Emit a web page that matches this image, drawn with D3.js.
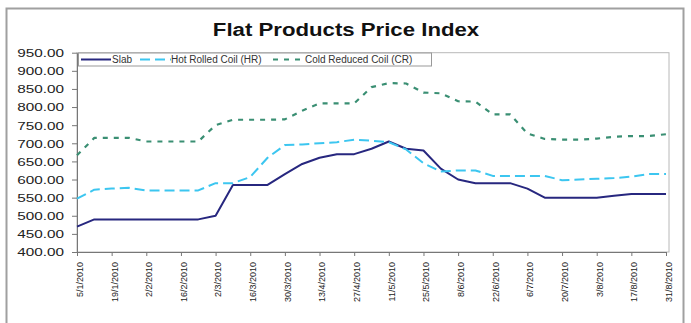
<!DOCTYPE html>
<html>
<head>
<meta charset="utf-8">
<script src="https://cdn.jsdelivr.net/npm/d3@7"></script>
<style>
  html, body { margin: 0; padding: 0; background: #fff; }
  svg { display: block; font-family: "Liberation Sans", Arial, sans-serif; }
</style>
</head>
<body>
<svg id="chart" width="691" height="323"></svg>
<script>
// Weekly observation dates (2010)
const dates = ["5/1/2010","12/1/2010","19/1/2010","26/1/2010","2/2/2010","9/2/2010","16/2/2010","23/2/2010",
  "2/3/2010","9/3/2010","16/3/2010","23/3/2010","30/3/2010","6/4/2010","13/4/2010","20/4/2010","27/4/2010",
  "4/5/2010","11/5/2010","18/5/2010","25/5/2010","1/6/2010","8/6/2010","15/6/2010","22/6/2010","29/6/2010",
  "6/7/2010","13/7/2010","20/7/2010","27/7/2010","3/8/2010","10/8/2010","17/8/2010","24/8/2010","31/8/2010"];

// Fortnightly axis labels
const tickLabels = ["5/1/2010","19/1/2010","2/2/2010","16/2/2010","2/3/2010","16/3/2010","30/3/2010",
  "13/4/2010","27/4/2010","11/5/2010","25/5/2010","8/6/2010","22/6/2010","6/7/2010","20/7/2010",
  "3/8/2010","17/8/2010","31/8/2010"];

const yTicks = [400,450,500,550,600,650,700,750,800,850,900,950];

const slab = [470,490,490,490,490,490,490,490,500,585,585,585,615,643,660,670,670,685,705,685,680,630,
  600,590,590,590,575,550,550,550,550,555,560,560,560];
const hotRolled = [547,572,575,577,570,570,570,570,590,590,607,660,695,697,700,703,710,707,703,683,645,
  622,625,625,610,610,610,610,598,600,602,604,608,615,615];
const coldReduced = [667,715,715,715,705,705,705,705,750,765,765,765,766,790,810,810,810,855,866,865,
  840,838,816,815,780,780,727,712,710,710,713,718,720,720,725];

const seriesNames = ["Slab", "Hot Rolled Coil (HR)", "Cold Reduced Coil (CR)"];

const svg = d3.select("#chart");

// Outer chart frame
svg.append("rect")
  .attr("x", 6.5).attr("y", 8.5).attr("width", 677).attr("height", 330)
  .attr("fill", "#fff").attr("stroke", "#a0a0a0").attr("stroke-width", 2);

// Title
svg.append("text")
  .attr("transform", "translate(346,36) scale(1.2,1)")
  .attr("text-anchor", "middle")
  .attr("font-size", 18.5).attr("font-weight", "bold").attr("fill", "#111")
  .text("Flat Products Price Index");

const x = d3.scalePoint().domain(dates).range([77, 666]);
const y = d3.scaleLinear().domain([400, 950]).range([252, 52.7]);

// Plot frame
svg.append("rect")
  .attr("x", 77).attr("y", y(950)).attr("width", 669 - 77).attr("height", y(400) - y(950))
  .attr("fill", "none").attr("stroke", "#b8b8b8").attr("stroke-width", 1);

// Y axis
const yAxis = svg.append("g")
  .attr("transform", "translate(77,0)")
  .call(d3.axisLeft(y).tickValues(yTicks).tickFormat(d3.format(".2f")).tickSize(5).tickSizeOuter(0));
yAxis.select(".domain").attr("stroke", "#777");
yAxis.selectAll(".tick line").attr("stroke", "#777");
yAxis.selectAll(".tick text")
  .attr("x", null).attr("dy", "0.35em")
  .attr("transform", "translate(-13,0) scale(1.39,1)")
  .attr("text-anchor", "end")
  .attr("font-size", 11).attr("fill", "#222")
  .attr("font-family", "'Liberation Sans', Arial, sans-serif");

// X axis
const xAxis = svg.append("g")
  .attr("transform", `translate(0,${y(400)})`)
  .call(d3.axisBottom(x).tickValues(tickLabels).tickSize(4).tickSizeOuter(0));
xAxis.select(".domain").attr("stroke", "#777");
xAxis.selectAll(".tick line").attr("stroke", "#777");
xAxis.selectAll(".tick text")
  .attr("y", null).attr("dy", null)
  .attr("transform", "translate(3,10) rotate(-90)")
  .attr("x", 0).attr("y", 0)
  .attr("text-anchor", "end")
  .attr("dominant-baseline", "middle")
  .attr("font-size", 9).attr("fill", "#222")
  .attr("font-family", "'Liberation Sans', Arial, sans-serif");

// Series lines
const line = d3.line().x((d, i) => x(dates[i])).y(d => y(d));

const styles = [
  { data: slab, color: "#27277f", dash: null, width: 2 },
  { data: hotRolled, color: "#3cc6f0", dash: "10,5", width: 2 },
  { data: coldReduced, color: "#3a8f73", dash: "5,6", width: 2.2 }
];

styles.forEach(s => {
  svg.append("path")
    .datum(s.data)
    .attr("fill", "none")
    .attr("stroke", s.color)
    .attr("stroke-width", s.width)
    .attr("stroke-dasharray", s.dash)
    .attr("stroke-linejoin", "round")
    .attr("d", line);
});

// Legend
const legend = svg.append("g");
legend.append("rect")
  .attr("x", 78.5).attr("y", 53).attr("width", 353).attr("height", 13)
  .attr("fill", "#fff").attr("stroke", "#999").attr("stroke-width", 1);

const legendItems = [
  { x0: 81, x1: 111, tx: 112 },
  { x0: 140, x1: 171, tx: 171 },
  { x0: 273, x1: 305, tx: 305 }
];
legendItems.forEach((it, i) => {
  const s = styles[i];
  legend.append("line")
    .attr("x1", it.x0).attr("x2", it.x1).attr("y1", 59.5).attr("y2", 59.5)
    .attr("stroke", s.color).attr("stroke-width", s.width)
    .attr("stroke-dasharray", s.dash);
  legend.append("text")
    .attr("x", it.tx).attr("y", 63)
    .attr("font-size", 10).attr("fill", "#333")
    .text(seriesNames[i]);
});
</script>
</body>
</html>
